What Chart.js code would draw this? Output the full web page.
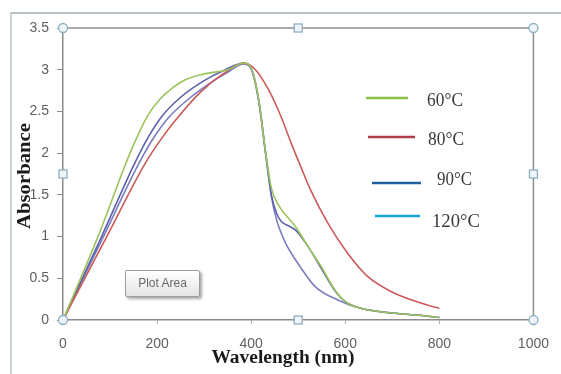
<!DOCTYPE html>
<html>
<head>
<meta charset="utf-8">
<script src="https://cdn.jsdelivr.net/npm/chart.js@4"></script>
<style>
  html, body { margin: 0; padding: 0; background: #fff; }
  #wrap { position: relative; width: 561px; height: 374px; overflow: hidden; background: #fff; }
  #frame { position: absolute; left: 10px; top: 12px; width: 600px; height: 400px;
    border-left: 2px solid #c9d4d5; border-top: 2px solid #b7c0c1; }
  canvas { position: absolute; left: 0; top: 0; }
  #tip { position: absolute; left: 125px; top: 270px; width: 73px; height: 25px;
    border: 1px solid #9c9c9c; border-radius: 2px; background: linear-gradient(#ffffff, #e4e4e4);
    box-shadow: 2px 2px 3px rgba(0,0,0,0.35); font: 12px "Liberation Sans", sans-serif;
    color: #6a6a6a; text-align: center; line-height: 25px; }
</style>
</head>
<body>
<div id="wrap">
  <div id="frame"></div>
  <canvas id="myChart" width="561" height="374"></canvas>
  <div id="tip">Plot Area</div>
</div>
<script>
// values (wavelength nm, absorbance)
const wl60 = [0, 78, 131, 150, 180, 205, 230, 260, 300, 350, 384, 399, 416, 430, 443, 458, 494, 521, 549, 578, 600, 633, 705, 768, 800];
const abs60 = [0, 1.05, 1.84, 2.1, 2.45, 2.64, 2.77, 2.88, 2.95, 3.0, 3.08, 3.03, 2.64, 2.04, 1.58, 1.38, 1.12, 0.88, 0.64, 0.36, 0.22, 0.14, 0.08, 0.05, 0.03];

const wl80 = [0, 93, 175, 210, 240, 290, 340, 385, 409, 437, 464, 485, 506, 527, 563, 605, 648, 705, 774, 800];
const abs80 = [0, 1.0, 1.88, 2.18, 2.4, 2.72, 2.95, 3.08, 3.0, 2.76, 2.43, 2.12, 1.83, 1.55, 1.16, 0.80, 0.52, 0.32, 0.18, 0.14];

const wl90 = [0, 82, 150, 180, 210, 250, 300, 345, 384, 399, 416, 430, 443, 454, 464, 479, 494, 521, 549, 578, 600, 633, 705, 768, 800];
const abs90 = [0, 1.0, 1.85, 2.18, 2.44, 2.67, 2.87, 3.0, 3.08, 3.03, 2.64, 2.04, 1.5, 1.28, 1.18, 1.13, 1.08, 0.88, 0.62, 0.35, 0.22, 0.14, 0.08, 0.05, 0.03];

const wl120 = [0, 86, 158, 190, 225, 265, 310, 350, 384, 399, 416, 430, 443, 454, 464, 475, 504, 536, 584, 633, 705, 768, 800];
const abs120 = [0, 1.0, 1.84, 2.16, 2.43, 2.64, 2.83, 2.97, 3.07, 3.02, 2.62, 2.02, 1.48, 1.2, 1.04, 0.9, 0.64, 0.40, 0.24, 0.14, 0.08, 0.05, 0.03];

const seriesNames = ["60\u00B0C", "80\u00B0C", "90\u00B0C", "120\u00B0C"];
const xTicks = [0, 200, 400, 600, 800, 1000];
const yTicks = [0, 0.5, 1, 1.5, 2, 2.5, 3, 3.5];

const lineColors = ["#9cc45c", "#cc5a58", "#5a62aa", "#7a7cbf"];
const legendColors = ["#8cc04a", "#b03a4a", "#1f5f9e", "#1ca3d6"];

const toPoints = (xs, ys) => xs.map((x, i) => ({ x: x, y: ys[i] }));
const series = [toPoints(wl60, abs60), toPoints(wl80, abs80), toPoints(wl90, abs90), toPoints(wl120, abs120)];

function fitText(ctx, text, x, y, font, width, angle) {
  ctx.save();
  ctx.font = font;
  const w = ctx.measureText(text).width;
  ctx.translate(x, y);
  ctx.rotate(angle || 0);
  ctx.scale(width / w, 1);
  ctx.textAlign = "center";
  ctx.textBaseline = "middle";
  ctx.fillText(text, 0, 0);
  ctx.restore();
}

const decor = {
  id: "decor",
  afterDraw(chart) {
    const ctx = chart.ctx;
    const a = chart.chartArea;

    // plot area outline (top and right)
    ctx.save();
    ctx.strokeStyle = "#8e8e8e";
    ctx.lineWidth = 1.5;
    ctx.beginPath();
    ctx.moveTo(a.left, a.top);
    ctx.lineTo(a.right, a.top);
    ctx.lineTo(a.right, a.bottom);
    ctx.stroke();
    ctx.restore();

    // legend
    const rows = [
      { x1: 366, x2: 408, y: 98, tx: 427, ty: 101, tw: 36 },
      { x1: 368, x2: 415, y: 137, tx: 428, ty: 140, tw: 36 },
      { x1: 372, x2: 421, y: 183, tx: 437, ty: 180, tw: 35 },
      { x1: 375, x2: 420, y: 216, tx: 432, ty: 222, tw: 48 }
    ];
    rows.forEach((r, i) => {
      ctx.save();
      ctx.strokeStyle = legendColors[i];
      ctx.lineWidth = 2.5;
      ctx.beginPath();
      ctx.moveTo(r.x1, r.y);
      ctx.lineTo(r.x2, r.y);
      ctx.stroke();
      ctx.fillStyle = "#3a3a3a";
      fitText(ctx, seriesNames[i], r.tx + r.tw / 2, r.ty, '19px "Liberation Serif"', r.tw, 0);
      ctx.restore();
    });

    // axis titles
    ctx.save();
    ctx.fillStyle = "#1a1a1a";
    fitText(ctx, "Wavelength (nm)", 283, 358, 'bold 18px "Liberation Serif"', 143, 0);
    fitText(ctx, "Absorbance", 25, 176, 'bold 19px "Liberation Serif"', 106, -Math.PI / 2);
    ctx.restore();

    // selection handles
    const mx = (a.left + a.right) / 2, my = (a.top + a.bottom) / 2;
    ctx.save();
    ctx.strokeStyle = "#8fb0c2";
    ctx.fillStyle = "#eef4f7";
    ctx.lineWidth = 1.3;
    [[a.left, a.top], [a.right, a.top], [a.right, a.bottom], [a.left, a.bottom]].forEach(p => {
      ctx.beginPath();
      ctx.arc(p[0], p[1], 4.5, 0, Math.PI * 2);
      ctx.fill();
      ctx.stroke();
    });
    [[mx, a.top], [a.right, my], [mx, a.bottom], [a.left, my]].forEach(p => {
      ctx.fillRect(p[0] - 4, p[1] - 4, 8, 8);
      ctx.strokeRect(p[0] - 4, p[1] - 4, 8, 8);
    });
    ctx.restore();
  }
};

new Chart(document.getElementById("myChart"), {
  type: "line",
  data: {
    datasets: series.map((pts, i) => ({
      label: seriesNames[i],
      data: pts,
      borderColor: lineColors[i],
      borderWidth: 1.6,
      pointRadius: 0,
      fill: false,
      cubicInterpolationMode: "monotone"
    }))
  },
  options: {
    responsive: false,
    animation: false,
    devicePixelRatio: 1,
    layout: { padding: { left: 0, top: 28, right: 24, bottom: 0 } },
    plugins: { legend: { display: false }, tooltip: { enabled: false } },
    scales: {
      x: {
        type: "linear",
        min: 0,
        max: 1000,
        afterFit: s => { s.height = 54; },
        afterBuildTicks: s => { s.ticks = xTicks.map(v => ({ value: v })); },
        border: { display: true, color: "#8a8a8a", width: 1.5 },
        grid: { drawOnChartArea: false, drawTicks: true, tickLength: 4, color: "#b0b0b0" },
        ticks: { padding: 12, color: "#606060", font: { family: "Liberation Sans", size: 14 },
          callback: v => String(v) }
      },
      y: {
        min: 0,
        max: 3.5,
        afterFit: s => { s.width = 63; },
        afterBuildTicks: s => { s.ticks = yTicks.map(v => ({ value: v })); },
        border: { display: true, color: "#8a8a8a", width: 1.5 },
        grid: { drawOnChartArea: false, drawTicks: true, tickLength: 6, color: "#8a8a8a" },
        ticks: { padding: 8, color: "#606060", font: { family: "Liberation Sans", size: 14 },
          callback: v => String(v) }
      }
    }
  },
  plugins: [decor]
});
</script>
</body>
</html>
